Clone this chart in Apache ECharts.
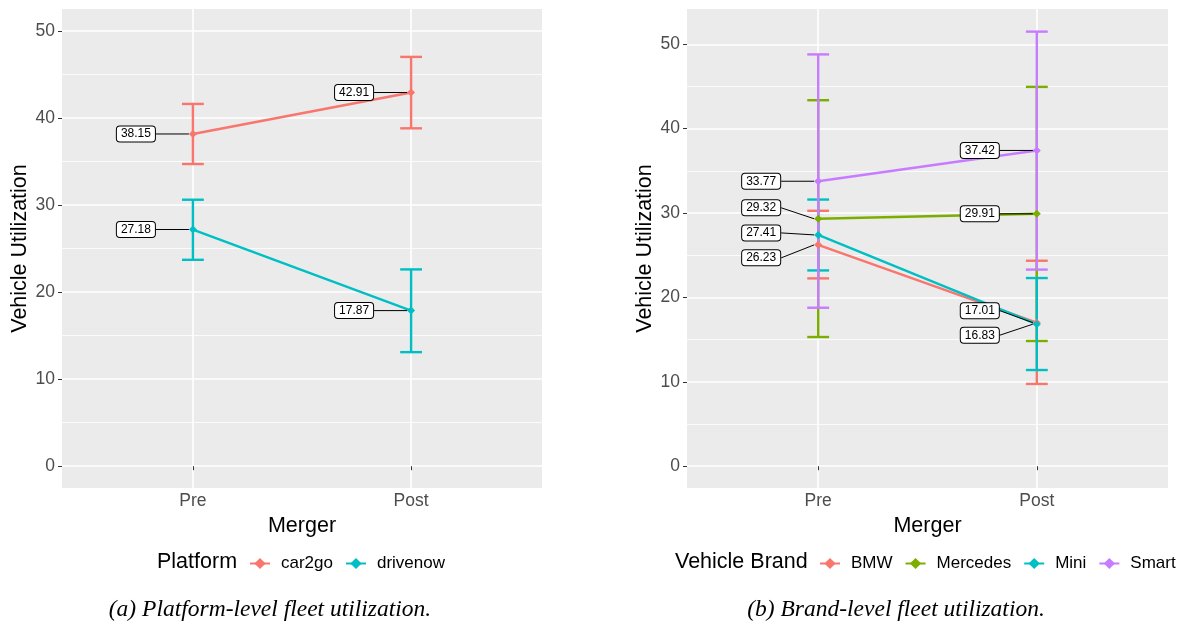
<!DOCTYPE html>
<html>
<head>
<meta charset="utf-8">
<script src="https://cdn.jsdelivr.net/npm/echarts@6/dist/echarts.min.js"></script>
<style>
  html, body { margin: 0; padding: 0; background: #fff; }
  #chart { width: 1188px; height: 622px; }
</style>
</head>
<body>
<div id="chart"></div>
<script>
// categories on the x axis (drawn at 1 and 2)
var periods = ['Pre', 'Post'];

// (a) platform level
var platforms = ['car2go', 'drivenow'];
var platformColors = ['#F8766D', '#00BFC4'];
var platformMean = [[38.15, 42.91], [27.18, 17.87]];
var platformLow  = [[34.7, 38.8], [23.7, 13.1]];
var platformHigh = [[41.6, 47.0], [30.6, 22.6]];

// (b) brand level
var brands = ['BMW', 'Mercedes', 'Mini', 'Smart'];
var brandColors = ['#F8766D', '#7CAE00', '#00BFC4', '#C77CFF'];
var brandMean = [[26.23, 17.01], [29.32, 29.91], [27.41, 16.83], [33.77, 37.42]];
var brandLow  = [[22.26, 9.75], [15.31, 14.84], [23.2, 11.4], [18.78, 23.3]];
var brandHigh = [[30.27, 24.35], [43.37, 44.95], [31.6, 22.3], [48.8, 51.5]];

var majorTicks = [0, 10, 20, 30, 40, 50];
var minorTicks = [5, 15, 25, 35, 45];

// vertical nudges of the repelled labels (px)
var platformNudge = [[0, 0], [0, 0]];
var brandNudge = [[13, -12], [-11, 0], [-2, 11], [0, 0]];

var FONT = 'Liberation Sans, Arial, sans-serif';
var SERIF = 'Liberation Serif, Times New Roman, serif';

function xAxisFor(gi) {
	return {
		type: 'value', gridIndex: gi, min: 0.4, max: 2.6,
		name: 'Merger', nameLocation: 'middle', nameGap: 20,
		nameTextStyle: { color: '#000', fontSize: 21.5, fontFamily: FONT },
		axisLine: { show: false },
		axisTick: { show: true, customValues: [1, 2], length: 4, lineStyle: { color: '#333', width: 1 } },
		axisLabel: {
			customValues: [1, 2], margin: 4, color: '#4D4D4D', fontSize: 17.5, fontFamily: FONT,
			formatter: function (v) { return periods[Math.round(v) - 1]; }
		},
		splitLine: { show: true, lineStyle: { color: '#fff', width: 1.6 } }
	};
}

function yMajor(gi, min, max) {
	return {
		type: 'value', gridIndex: gi, min: min, max: max,
		name: 'Vehicle Utilization', nameLocation: 'middle', nameGap: 31,
		nameTextStyle: { color: '#000', fontSize: 21.5, fontFamily: FONT },
		axisLine: { show: false },
		axisTick: { show: true, customValues: majorTicks, length: 4, lineStyle: { color: '#333', width: 1 } },
		axisLabel: { customValues: majorTicks, margin: 7, color: '#4D4D4D', fontSize: 17.5, fontFamily: FONT },
		splitLine: { show: true, lineStyle: { color: '#fff', width: 1.6 } }
	};
}

function yMinor(gi, min, max) {
	return {
		type: 'value', gridIndex: gi, min: min, max: max,
		axisLine: { show: false },
		axisTick: { show: false, customValues: minorTicks },
		axisLabel: { show: false },
		splitLine: { show: true, lineStyle: { color: '#fff', width: 0.8 } }
	};
}

function errorSeries(name, color, low, high, xi, yi) {
	var data = periods.map(function (p, i) { return [i + 1, low[i], high[i]]; });
	return {
		type: 'custom', name: name + ' error', xAxisIndex: xi, yAxisIndex: yi, z: 2,
		silent: true, data: data,
		renderItem: function (params, api) {
			var top = api.coord([api.value(0), api.value(2)]);
			var bot = api.coord([api.value(0), api.value(1)]);
			var half = api.size([0.05, 0])[0];
			var style = { stroke: color, lineWidth: 2.4, fill: null };
			return {
				type: 'group',
				children: [
					{ type: 'line', shape: { x1: top[0], y1: top[1], x2: bot[0], y2: bot[1] }, style: style },
					{ type: 'line', shape: { x1: top[0] - half, y1: top[1], x2: top[0] + half, y2: top[1] }, style: style },
					{ type: 'line', shape: { x1: bot[0] - half, y1: bot[1], x2: bot[0] + half, y2: bot[1] }, style: style }
				]
			};
		}
	};
}

function lineSeries(name, color, mean, nudge, xi, yi) {
	return {
		type: 'line', name: name, xAxisIndex: xi, yAxisIndex: yi, z: 3,
		data: periods.map(function (p, i) { return [i + 1, mean[i]]; }),
		color: color,
		symbol: 'diamond', symbolSize: 8, showSymbol: true,
		lineStyle: { width: 2.4, color: color },
		itemStyle: { color: color },
		label: {
			show: true, position: 'left', distance: 34,
			formatter: function (p) { return p.value[1].toFixed(2); },
			color: '#000', fontSize: 12, lineHeight: 12, fontFamily: FONT,
			backgroundColor: '#fff', borderColor: '#000', borderWidth: 1, borderRadius: 3,
			padding: [2, 4, 1, 4]
		},
		labelLine: { show: true, lineStyle: { color: '#000', width: 1 } },
		labelLayout: function (p) { return { dy: nudge[p.dataIndex] }; },
		emphasis: { disabled: true }
	};
}

var series = [];
platforms.forEach(function (n, i) {
	series.push(errorSeries(n, platformColors[i], platformLow[i], platformHigh[i], 0, 0));
});
brands.forEach(function (n, i) {
	series.push(errorSeries(n, brandColors[i], brandLow[i], brandHigh[i], 1, 2));
});
platforms.forEach(function (n, i) {
	series.push(lineSeries(n, platformColors[i], platformMean[i], platformNudge[i], 0, 0));
});
brands.forEach(function (n, i) {
	series.push(lineSeries(n, brandColors[i], brandMean[i], brandNudge[i], 1, 2));
});

var legendText = { fontSize: 17, color: '#000', fontFamily: FONT, padding: [0, 0, 0, 6] };
var titleText = { fontSize: 21.5, fontWeight: 'normal', color: '#000', fontFamily: FONT };
var captionText = { fontSize: 23.5, fontStyle: 'italic', fontWeight: 'normal', color: '#000', fontFamily: SERIF };

var chart = echarts.init(document.getElementById('chart'));
var option = {
	animation: false,
	backgroundColor: '#fff',
	textStyle: { fontFamily: FONT },
	grid: [
		{ left: 62, top: 9, width: 480, height: 479, show: true, backgroundColor: '#EBEBEB', borderWidth: 0 },
		{ left: 687, top: 9, width: 481, height: 479, show: true, backgroundColor: '#EBEBEB', borderWidth: 0 }
	],
	xAxis: [xAxisFor(0), xAxisFor(1)],
	yAxis: [yMajor(0, -2.5, 52.5), yMinor(0, -2.5, 52.5), yMajor(1, -2.58, 54.18), yMinor(1, -2.58, 54.18)],
	title: [
		{ text: 'Platform', left: 152, top: 546, textStyle: titleText },
		{ text: 'Vehicle Brand', left: 670, top: 546, textStyle: titleText },
		{ text: '(a) Platform-level fleet utilization.', left: 265, top: 593, textAlign: 'center', textStyle: captionText },
		{ text: '(b) Brand-level fleet utilization.', left: 891, top: 593, textAlign: 'center', textStyle: captionText }
	],
	legend: [
		{ data: platforms, left: 249, top: 555, padding: 0, itemWidth: 20, itemHeight: 14, itemGap: 12,
			textStyle: legendText, selectedMode: false },
		{ data: brands, left: 819, top: 555, padding: 0, itemWidth: 20, itemHeight: 14, itemGap: 12,
			textStyle: legendText, selectedMode: false }
	],
	series: series
};
chart.setOption(option);
</script>
</body>
</html>
